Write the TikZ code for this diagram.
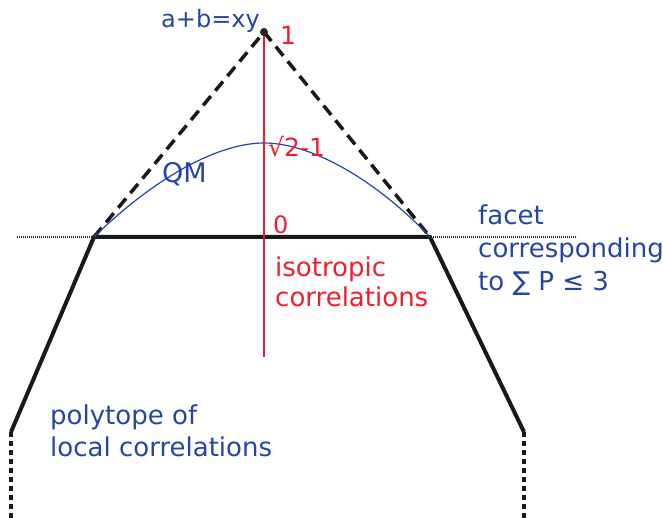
\documentclass[tikz,border=0pt]{standalone}
\usepackage{fontspec}
\setmainfont{DejaVu Sans}
\definecolor{bleuQM}{RGB}{35,70,165}
\definecolor{rougeIso}{RGB}{240,30,45}
\usetikzlibrary{positioning}

\begin{document}
\begin{tikzpicture}[x=1pt, y=-1pt,
  polyline/.style={line width=4pt, color=black!90},
  nsline/.style={line width=3.5pt, color=black!90, dash pattern=on 12pt off 7pt},
  cutline/.style={line width=4pt, color=black!90, dash pattern=on 5pt off 4pt},
  facetline/.style={line width=2pt, color=black!80, dash pattern=on 1.2pt off 0.8pt},
  bluetxt/.style={font=\fontsize{26}{32}\selectfont, color=bleuQM, align=left, inner sep=0pt},
  redtxt/.style={font=\fontsize{25}{30}\selectfont, color=rougeIso, align=left, inner sep=0pt}
]
  \useasboundingbox (0,0) rectangle (663,518);

  % corners of the polytope
  \coordinate (apex) at (264,32);
  \coordinate (fl) at (94,237);
  \coordinate (fr) at (430,237);
  \coordinate (cl) at (11,432);
  \coordinate (cr) at (524,432);
  \coordinate (bl) at (11,518);
  \coordinate (br) at (524,518);
  \coordinate (hl) at (17,237);
  \coordinate (hr) at (577,237);
  \coordinate (axisend) at (264,357);
  \coordinate (qmtop) at (264,143);

  % facet
  \draw[facetline] (hl) -- (hr);
  \draw[polyline] (cl) -- (fl) -- (fr) -- (cr);
  \draw[cutline] (cl) -- (bl);
  \draw[cutline] (cr) -- (br);

  % no-signalling cone
  \draw[nsline] (fl) -- (apex) -- (fr);

  % quantum boundary
  \draw[bleuQM, line width=1.2pt] (fl) .. controls (150,182) and (215,143) .. (qmtop)
    .. controls (313,143) and (378,182) .. (fr);

  % isotropic axis
  \draw[rougeIso, line width=2pt] (apex) -- (axisend);
  \fill[black!85] (apex) circle (4pt);

  % labels
  \node[bluetxt, font=\fontsize{24}{28}\selectfont, anchor=base east] (pr) at (260,28) {a+b=xy};
  \node[redtxt, anchor=base west] (one) at (280,45) {1};
  \node[redtxt, anchor=base west] (tsir) at (268,157) {√2-1};
  \node[bluetxt, font=\fontsize{27}{32}\selectfont, anchor=base west] (qm) at (162,183) {QM};
  \node[redtxt, font=\fontsize{24}{30}\selectfont, anchor=base west] (zero) at (273,234) {0};
  \node[redtxt, font=\fontsize{26}{30}\selectfont, anchor=north west] (iso) at (275,257) {isotropic\\correlations};
  \node[bluetxt, font=\fontsize{26}{33}\selectfont, anchor=north west] (facet) at (478,205) {facet\\corresponding\\to ∑ P ≤ 3};
  \node[bluetxt, anchor=north west] (local) at (50,405) {polytope of\\local correlations};
\end{tikzpicture}
\end{document}
